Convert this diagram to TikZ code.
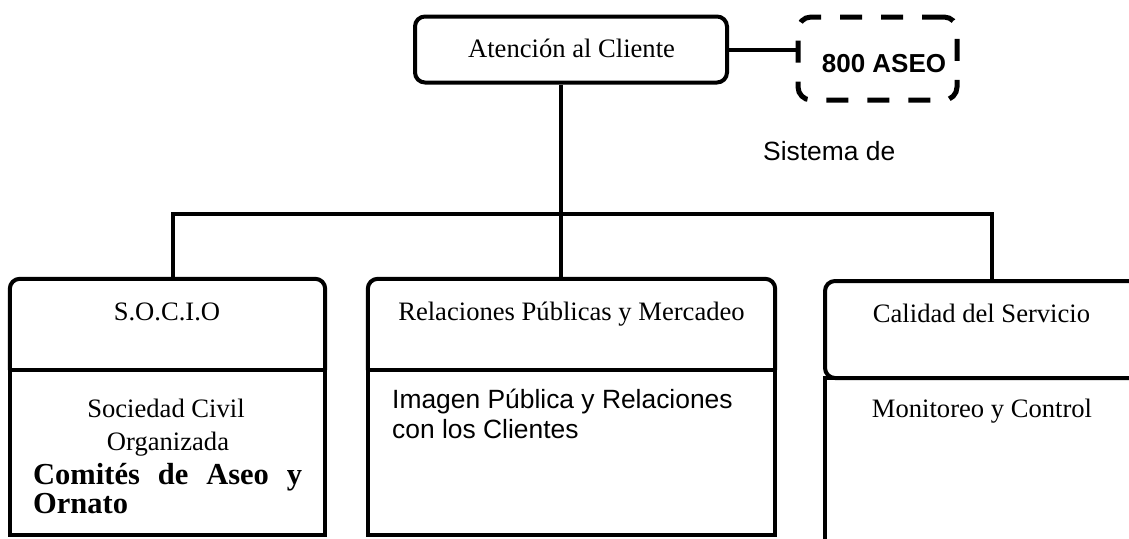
\documentclass[tikz,border=0pt]{standalone}
\usepackage{fontspec}
\setmainfont{Liberation Serif}
\setsansfont{Liberation Sans}
\begin{document}
\begin{tikzpicture}[x=1pt,y=-1pt,
  box/.style={draw, line width=4pt, rounded corners=10pt, inner sep=0pt},
  hbox/.style={inner sep=0pt},
  sqbox/.style={draw, line width=4pt, inner sep=0pt},
  topround/.style={line width=4pt, rounded corners=10pt},
  dbox/.style={draw, line width=5pt, rounded corners=13pt, inner sep=0pt, dash pattern=on 22pt off 19pt},
  conn/.style={line width=4pt, miter limit=10},
  ser/.style={font=\fontsize{26.6}{30}\selectfont, inner sep=0pt, anchor=base},
  serb/.style={font=\fontsize{30.5}{34}\selectfont\bfseries, inner sep=0pt, anchor=base west},
  sans/.style={font=\sffamily\fontsize{26.4}{30}\selectfont, inner sep=0pt, anchor=base west},
  sansb/.style={font=\sffamily\bfseries\fontsize{26}{30}\selectfont, inner sep=0pt, anchor=base}]
\path[use as bounding box] (0,0) rectangle (1129,538);
\clip (0,0) rectangle (1129,538);

% boxes
\node[box, minimum width=312pt, minimum height=66pt] (top) at (571,49.5) {};
\node[dbox, minimum width=159pt, minimum height=83pt] (aseo) at (877.5,58.5) {};

\node[hbox, minimum width=315pt, minimum height=91pt] (socioH) at (167.5,324.5) {};
\draw[topround] (socioH.south west) -- (socioH.north west) -- (socioH.north east) -- (socioH.south east);
\node[sqbox, minimum width=315pt, minimum height=165pt] (socioB) at (167.5,452.5) {};
\node[hbox, minimum width=407pt, minimum height=91pt] (relH) at (571.5,324.5) {};
\draw[topround] (relH.south west) -- (relH.north west) -- (relH.north east) -- (relH.south east);
\node[sqbox, minimum width=407pt, minimum height=165pt] (relB) at (571.5,452.5) {};
\node[box, minimum width=320pt, minimum height=97pt] (calH) at (985,329.5) {};
\node[sqbox, minimum width=320pt, minimum height=202pt] (calB) at (985,479) {};

% connectors
\coordinate (barL) at (173,214);
\coordinate (barM) at (561,214);
\coordinate (barR) at (992,214);
\draw[conn] (top.east) -- (top.east -| aseo.west);
\draw[conn] (barM |- top.south) -- (barM |- relH.north);
\draw[conn] (barL |- socioH.north) -- (barL) -- (barR) -- (barR |- calH.north);

% texts
\node[ser] (tAt) at (571.5,57) {Atención al Cliente};
\node[sansb] (t800) at (884,72) {800 ASEO};
\node[sans] (tSis) at (763,160) {Sistema de};
\node[ser] (tSocio) at (167,320) {S.O.C.I.O};
\node[ser] (tSoc) at (166,417) {Sociedad Civil};
\node[ser] (tOrg) at (168,450) {Organizada};
\node[serb] (tCom) at (33,484) {\makebox[269pt][s]{Comités de Aseo y}};
\node[serb] (tOrn) at (33,513) {Ornato};
\node[ser] (tRel) at (571.5,320) {Relaciones Públicas y Mercadeo};
\node[sans] (tImg) at (392,408) {Imagen Pública y Relaciones};
\node[sans] (tCon) at (392,438) {con los Clientes};
\node[ser] (tCal) at (981.5,322) {Calidad del Servicio};
\node[ser] (tMon) at (982,417) {Monitoreo y Control};
\end{tikzpicture}
\end{document}
